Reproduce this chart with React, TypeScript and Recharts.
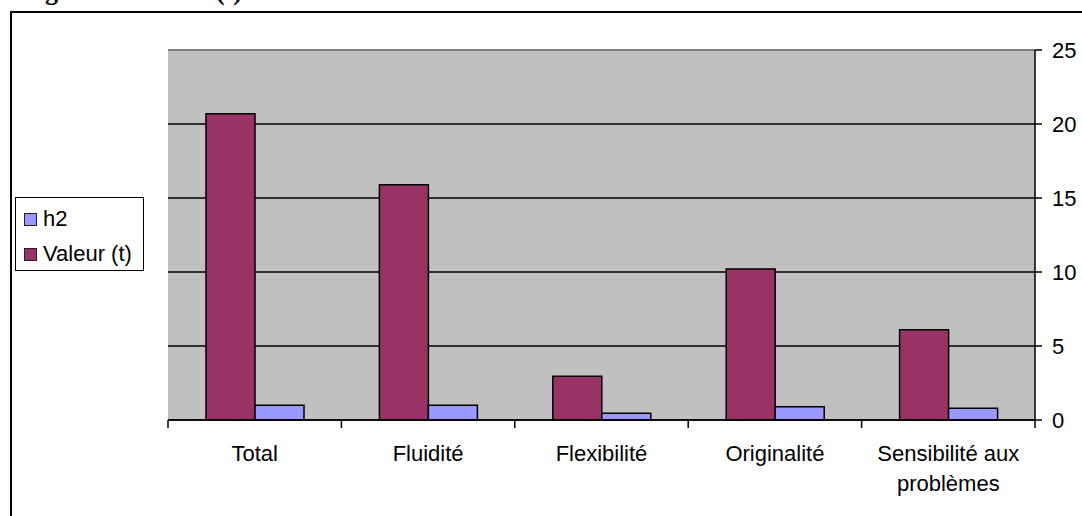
import React from "react";
import {
  BarChart,
  Bar,
  XAxis,
  YAxis,
  CartesianGrid,
  ReferenceLine,
} from "recharts";

const categories = [
  "Total",
  "Fluidité",
  "Flexibilité",
  "Originalité",
  "Sensibilité aux problèmes",
];
const valeurT = [20.7, 15.9, 2.95, 10.2, 6.1];
const h2 = [1.0, 1.0, 0.45, 0.9, 0.8];
const yTicks = [0, 5, 10, 15, 20, 25];

const legendItems = [
  { name: "h2", color: "#9999FF" },
  { name: "Valeur (t)", color: "#993366" },
];

const W = 1082;
const H = 516;
const PLOT_LEFT = 168;
const PLOT_RIGHT = 1035;
const PLOT_TOP = 50;
const PLOT_BOTTOM = 420;
const BAND = (PLOT_RIGHT - PLOT_LEFT) / categories.length;
const FONT = "Arial, 'Liberation Sans', sans-serif";

const data = categories.map((name, i) => ({
  name,
  valeur: valeurT[i],
  h2: h2[i],
}));

// split long labels into lines the way Excel wraps them
function wrap(label: string, maxChars = 16): string[] {
  const words = label.split(" ");
  const lines: string[] = [];
  let cur = "";
  for (const w of words) {
    const next = cur ? cur + " " + w : w;
    if (next.length > maxChars && cur) {
      lines.push(cur);
      cur = w;
    } else {
      cur = next;
    }
  }
  if (cur) lines.push(cur);
  return lines;
}

function CategoryTick(props: any) {
  const { x, y, payload, index } = props;
  const lines = wrap(String(payload.value));
  const half = BAND / 2;
  return (
    <g>
      <line x1={x - half} x2={x - half} y1={y} y2={y + 8} stroke="#000" strokeWidth={1.5} />
      {index === categories.length - 1 && (
        <line x1={x + half} x2={x + half} y1={y} y2={y + 8} stroke="#000" strokeWidth={1.5} />
      )}
      {lines.map((l, i) => (
        <text
          key={i}
          x={x}
          y={y + 41 + i * 30}
          textAnchor="middle"
          fontSize={22}
          fontFamily={FONT}
          fill="#000"
        >
          {l}
        </text>
      ))}
    </g>
  );
}

export default function App() {
  return (
    <div
      style={{
        position: "absolute",
        left: 0,
        top: 0,
        width: W,
        height: H,
        overflow: "hidden",
        background: "#fff",
      }}
    >
      {/* clipped caption from the page above */}
      <div
        style={{
          position: "absolute",
          left: 22,
          top: -23,
          fontFamily: "'Liberation Serif', 'Times New Roman', serif",
          fontWeight: "bold",
          fontSize: 26,
          whiteSpace: "nowrap",
        }}
      >
        Figure 2 : Valeur (t)
      </div>
      {/* outer chart frame */}
      <div
        style={{
          position: "absolute",
          left: 10,
          top: 11,
          width: W,
          height: H,
          border: "2px solid #000",
        }}
      />
      <div style={{ position: "absolute", left: 0, top: 0 }}>
        <BarChart
          width={W}
          height={H}
          data={data}
          margin={{ top: PLOT_TOP, right: 0, left: PLOT_LEFT, bottom: 0 }}
          barGap={0}
          barSize={49}
        >
          <CartesianGrid
            vertical={false}
            stroke="#000"
            strokeWidth={1.5}
            fill="#C0C0C0"
            fillOpacity={1}
          />
          <XAxis
            dataKey="name"
            height={H - PLOT_BOTTOM}
            interval={0}
            tickLine={false}
            tickSize={0}
            tickMargin={0}
            axisLine={{ stroke: "#000", strokeWidth: 1.5 }}
            tick={<CategoryTick />}
          />
          <YAxis
            yAxisId="left"
            orientation="left"
            width={0}
            domain={[0, 25]}
            ticks={yTicks}
            tick={false}
            tickLine={false}
            axisLine={{ stroke: "#808080", strokeWidth: 2 }}
          />
          <YAxis
            orientation="right"
            width={W - PLOT_RIGHT}
            domain={[0, 25]}
            ticks={yTicks}
            interval={0}
            tickSize={7}
            tickMargin={10}
            tickLine={{ stroke: "#000", strokeWidth: 1.5 }}
            axisLine={{ stroke: "#000", strokeWidth: 1.5 }}
            tick={{ fill: "#000", fontSize: 22, fontFamily: FONT }}
          />
          <Bar
            dataKey="valeur"
            name="Valeur (t)"
            fill="#993366"
            stroke="#000"
            strokeWidth={1.5}
            isAnimationActive={false}
          />
          <Bar
            dataKey="h2"
            name="h2"
            fill="#9999FF"
            stroke="#000"
            strokeWidth={1.5}
            isAnimationActive={false}
          />
          <ReferenceLine y={25} stroke="#808080" strokeWidth={2} />
        </BarChart>
      </div>
      {/* legend box */}
      <div
        style={{
          position: "absolute",
          left: 15,
          top: 197,
          width: 127,
          height: 72,
          border: "1.5px solid #000",
          background: "#fff",
          fontFamily: FONT,
          fontSize: 22,
        }}
      >
        {legendItems.map((it, i) => (
          <div
            key={it.name}
            style={{
              position: "absolute",
              left: 8,
              top: 9 + i * 35,
              height: 24,
              display: "flex",
              alignItems: "center",
              whiteSpace: "nowrap",
            }}
          >
            <span
              style={{
                display: "inline-block",
                width: 11,
                height: 11,
                background: it.color,
                border: "1.5px solid #222",
                marginRight: 6,
              }}
            />
            <span>{it.name}</span>
          </div>
        ))}
      </div>
    </div>
  );
}
